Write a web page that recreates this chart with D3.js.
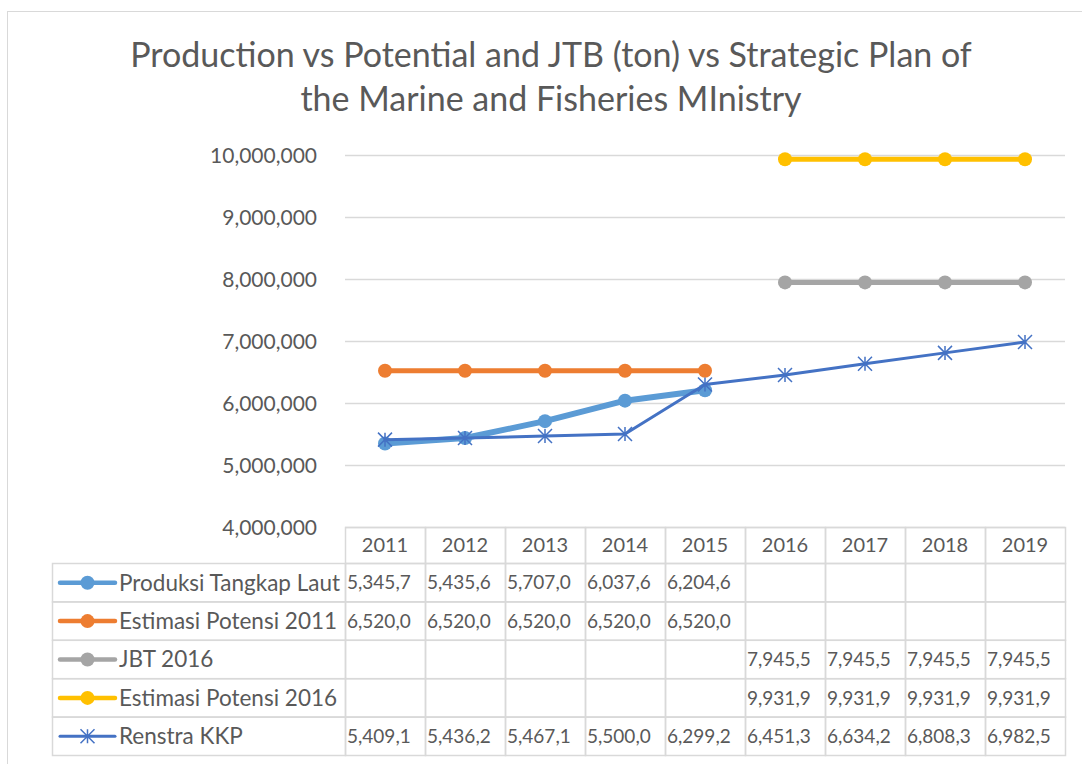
<!DOCTYPE html>
<html><head><meta charset="utf-8">
<script src="https://cdn.jsdelivr.net/npm/d3@7"></script>
<style>
html,body{margin:0;padding:0;background:#fff;}
text{font-family:Lato,"Open Sans",sans-serif;fill:#595959;}
</style></head>
<body><svg id="c" width="1082" height="764"></svg>
<script>
const years = ["2011","2012","2013","2014","2015","2016","2017","2018","2019"];
const seriesNames = ["Produksi Tangkap Laut","Estimasi Potensi 2011","JBT 2016","Estimasi Potensi 2016","Renstra KKP"];
const produksi = [5345700,5435600,5707000,6037600,6204600,null,null,null,null];
const estimasi2011 = [6520000,6520000,6520000,6520000,6520000,null,null,null,null];
const jbt2016 = [null,null,null,null,null,7945500,7945500,7945500,7945500];
const estimasi2016 = [null,null,null,null,null,9931900,9931900,9931900,9931900];
const renstra = [5409100,5436200,5467100,5500000,6299200,6451300,6634200,6808300,6982500];
const yTicks = [4000000,5000000,6000000,7000000,8000000,9000000,10000000];
const titleLines = ["Production vs Potential and JTB (ton) vs Strategic Plan of","the Marine and Fisheries MInistry"];

const series = [
  {name:seriesNames[0], values:produksi, color:"#5b9bd5", width:6, marker:"circle"},
  {name:seriesNames[1], values:estimasi2011, color:"#ed7d31", width:5, marker:"circle"},
  {name:seriesNames[2], values:jbt2016, color:"#a5a5a5", width:5, marker:"circle"},
  {name:seriesNames[3], values:estimasi2016, color:"#ffc000", width:5, marker:"circle"},
  {name:seriesNames[4], values:renstra, color:"#4472c4", width:3, marker:"star"}
];

const svg = d3.select("#c");
const grid = "#d9d9d9";
// outer chart border
svg.append("rect").attr("x",7.5).attr("y",11.5).attr("width",1100).attr("height",800)
  .attr("fill","none").attr("stroke",grid).attr("stroke-width",1);

// title
svg.append("g").selectAll("text").data(titleLines).join("text")
  .attr("x",551).attr("y",(d,i)=>67+i*44).attr("text-anchor","middle")
  .attr("font-size",34).text(d=>d);

const x = d3.scaleBand().domain(years).range([345,1065]);
const y = d3.scaleLinear().domain([4000000,10000000]).range([527,155]);
const cx = d => x(d)+x.bandwidth()/2;

// gridlines
svg.append("g").selectAll("line").data(yTicks).join("line")
  .attr("x1",345).attr("x2",1065).attr("y1",d=>Math.round(y(d))+0.5).attr("y2",d=>Math.round(y(d))+0.5)
  .attr("stroke",grid).attr("stroke-width",1.5);

// y axis labels
const yAxis = d3.axisLeft(y).tickValues(yTicks).tickFormat(d3.format(",")).tickSize(0).tickPadding(0);
const ga = svg.append("g").attr("transform","translate(317,0)").call(yAxis);
ga.select(".domain").remove();
ga.selectAll("text").attr("font-size",21).attr("fill","#595959").attr("dy","0.35em")
  .style("font-family","Lato");

// series lines
const line = d3.line().defined(d=>d.v!=null).x(d=>cx(d.year)).y(d=>y(d.v));
function drawMarker(g, type, color, px, py){
  if(type==="circle"){
    g.append("circle").attr("cx",px).attr("cy",py).attr("r",7).attr("fill",color);
  } else {
    const s=7;
    g.append("path").attr("d",`M${px},${py-s}L${px},${py+s}M${px-s},${py-s}L${px+s},${py+s}M${px-s},${py+s}L${px+s},${py-s}`)
      .attr("stroke",color).attr("stroke-width",1.5).attr("fill","none");
  }
}
series.forEach(s=>{
  const pts = years.map((yr,i)=>({year:yr,v:s.values[i]}));
  const g = svg.append("g");
  g.append("path").attr("d",line(pts)).attr("fill","none").attr("stroke",s.color)
    .attr("stroke-width",s.width).attr("stroke-linejoin","round").attr("stroke-linecap","round");
  pts.filter(p=>p.v!=null).forEach(p=>drawMarker(g,s.marker,s.color,cx(p.year),y(p.v)));
});

// data table
const tTop = 527, hdrH = 36, rowH = 38.4, legL = 52;
const tg = svg.append("g");
tg.append("g").selectAll("rect").data(years).join("rect")
  .attr("x",d=>x(d)+0.5).attr("y",tTop+0.5).attr("width",x.bandwidth()).attr("height",hdrH)
  .attr("fill","none").attr("stroke",grid).attr("stroke-width",1.5);
tg.append("g").selectAll("text").data(years).join("text")
  .attr("x",d=>cx(d)).attr("y",tTop+hdrH/2).attr("dy","0.35em").attr("text-anchor","middle")
  .attr("font-size",20).text(d=>d);
const fmt = d3.format(",");
series.forEach((s,i)=>{
  const ry = tTop+hdrH+i*rowH;
  tg.append("rect").attr("x",legL+0.5).attr("y",ry+0.5).attr("width",345-legL).attr("height",rowH)
    .attr("fill","none").attr("stroke",grid).attr("stroke-width",1.5);
  tg.append("g").selectAll("rect").data(years).join("rect")
    .attr("x",d=>x(d)+0.5).attr("y",ry+0.5).attr("width",x.bandwidth()).attr("height",rowH)
    .attr("fill","none").attr("stroke",grid).attr("stroke-width",1.5);
  const cyR = ry+rowH/2+0.5;
  const lg = tg.append("g");
  lg.append("line").attr("x1",60).attr("x2",115).attr("y1",cyR).attr("y2",cyR)
    .attr("stroke",s.color).attr("stroke-width",s.marker==="star"?3:4.5).attr("stroke-linecap","round");
  drawMarker(lg,s.marker,s.color,87.5,cyR);
  lg.append("text").attr("x",119).attr("y",cyR).attr("dy","0.35em").attr("font-size",22.5).text(s.name);
  tg.append("g").selectAll("text").data(years.map((yr,j)=>({yr,v:s.values[j]})).filter(d=>d.v!=null)).join("text")
    .attr("x",d=>x(d.yr)+2).attr("y",cyR).attr("dy","0.35em").attr("font-size",19)
    .text(d=>fmt(d.v).slice(0,7));
});
</script></body></html>
